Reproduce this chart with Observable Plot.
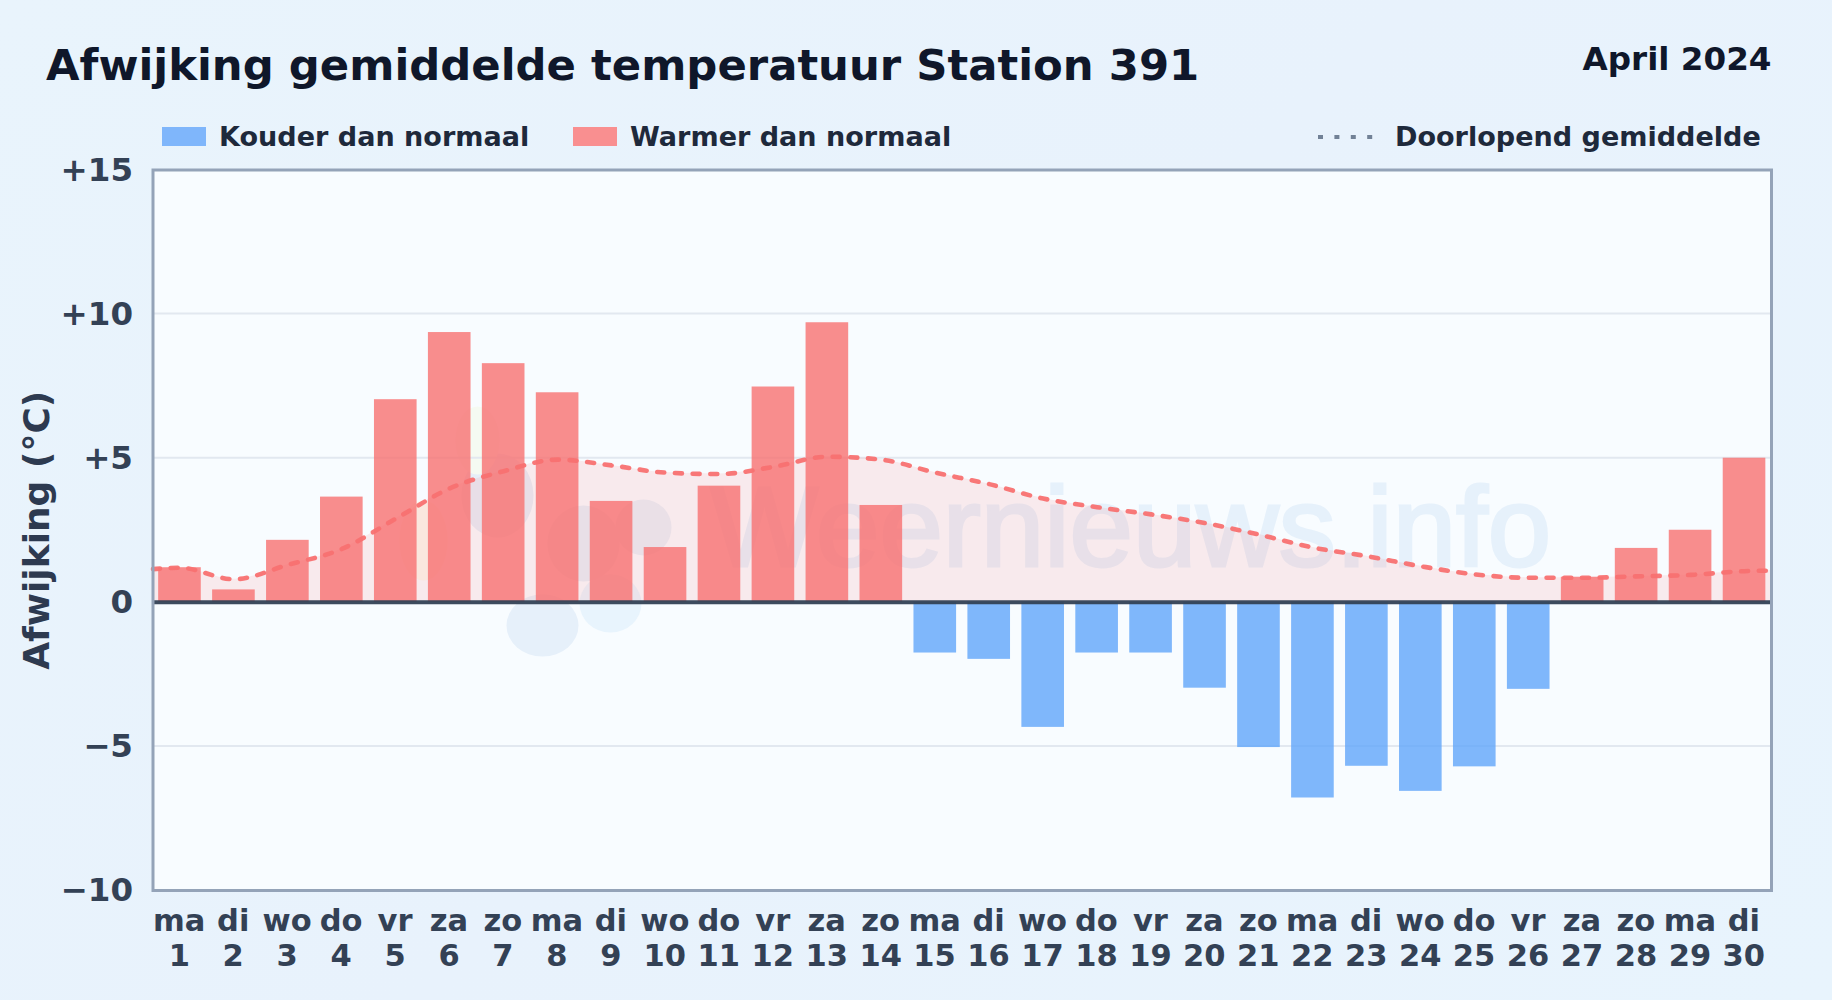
<!DOCTYPE html>
<html><head><meta charset="utf-8">
<script src="https://cdn.jsdelivr.net/npm/d3@7"></script>
<script src="https://cdn.jsdelivr.net/npm/@observablehq/plot@0.6"></script>
<style>
html,body{margin:0;padding:0;width:1832px;height:1000px;overflow:hidden;background:#e8f3fc;font-family:"DejaVu Sans",sans-serif;font-weight:700}
#page{position:relative;width:1832px;height:1000px;background:linear-gradient(135deg,#e9f4fc 0%,#e8f2fc 50%,#e8f4fd 100%)}
.t{position:absolute;white-space:nowrap;line-height:1}
.sw{position:absolute;width:44px;height:19px;top:127px}
#panel{position:absolute;left:152.5px;top:169.5px;width:1618.5px;height:720.5px;background:#f8fcff;overflow:hidden}
#wm{position:absolute;left:0;top:0}
#chart{position:absolute;left:0;top:150px}
#chart svg{display:block;background:transparent;max-width:none}
</style></head><body>
<div id="page">
  <div id="panel"></div>
  <div class="t" id="title" style="left:46px;top:43.5px;font-size:43.35px;color:#0f172a">Afwijking gemiddelde temperatuur Station 391</div>
  <div class="t" id="period" style="right:60.5px;top:43px;font-size:32.6px;color:#0f172a">April 2024</div>
  <div class="sw" style="left:162px;background:#7fb6fb"></div>
  <div class="t" style="left:219px;top:123px;font-size:27.05px;color:#1e293b">Kouder dan normaal</div>
  <div class="sw" style="left:573px;background:#f98f90"></div>
  <div class="t" style="left:630px;top:123px;font-size:27.05px;color:#1e293b">Warmer dan normaal</div>
  <svg style="position:absolute;left:1316px;top:130px" width="64" height="14"><line x1="2" x2="62" y1="7" y2="7" stroke="#64748b" stroke-opacity=".9" stroke-width="4" stroke-dasharray="5 11.4"/></svg>
  <div class="t" style="left:1395px;top:123px;font-size:27.05px;color:#1e293b">Doorlopend gemiddelde</div>
  <div id="chart"></div>
</div>
<script>
const days = d3.range(1, 31);
const weekdays = ["ma","di","wo","do","vr","za","zo","ma","di","wo","do","vr","za","zo","ma","di","wo","do","vr","za","zo","ma","di","wo","do","vr","za","zo","ma","di"];
const values = [1.2,0.43,2.15,3.65,7.03,9.36,8.28,7.27,3.5,1.9,4.03,7.47,9.7,3.36,-1.76,-1.98,-4.34,-1.76,-1.76,-2.98,-5.04,-6.79,-5.69,-6.56,-5.71,-3.02,0.87,1.87,2.5,5.0];
const avgX = [0.5,1,2,3,4,5,6,7,8,9,10,11,12,13,14,15,16,17,18,19,20,21,22,23,24,25,26,27,28,29,30,30.5];
const avgY = [1.15,1.2,0.8,1.3,1.85,2.9,3.95,4.55,4.95,4.75,4.5,4.45,4.7,5.05,4.95,4.5,4.1,3.6,3.3,3.05,2.75,2.35,1.9,1.6,1.25,0.97,0.85,0.85,0.9,0.95,1.08,1.1];
const yTicks = [-10,-5,0,5,10,15];
const gridTicks = [-5,5,10];
const yLabel = v => v > 0 ? "+" + v : v < 0 ? "\u2212" + Math.abs(v) : "0";
const avgRows = avgX.map((x, i) => ({x, y: avgY[i]}));
const red = "#f87171", blue = "#60a5fa";

// watermark sits in the panel, underneath the translucent marks
const wm = d3.select("#panel").append("svg").attr("id","wm").attr("width",1618.5).attr("height",720.5);
const ox = -152.5, oy = -169.5;
const logo = [[542,625,36,31,"#e6f0fa"],[610,603,31,29,"#e8f4fd"],[497,495,36,42,"#e6eef8"],[643,527,28,28,"#e8f0f9"],[583,543,36,38,"#e6eff8"],[423,540,24,40,"#fbf8ee"],[477,440,22,34,"#f5faf2"]];
wm.selectAll("ellipse").data(logo).join("ellipse")
  .attr("cx",d=>d[0]+ox).attr("cy",d=>d[1]+oy).attr("rx",d=>d[2]).attr("ry",d=>d[3]).attr("fill",d=>d[4]);
wm.append("text").attr("x",710+ox).attr("y",565+oy).attr("font-family","Liberation Sans").attr("font-weight",400)
  .attr("font-size",114).attr("fill","#e6f1fb").attr("stroke","#e6f1fb").attr("stroke-width",3).text("Weernieuws.info");

const chart = Plot.plot({
  width: 1832, height: 850,
  marginLeft: 152.5, marginRight: 61, marginTop: 19.5, marginBottom: 110,
  style: {background:"transparent", fontFamily:"DejaVu Sans, sans-serif"},
  x: {type:"linear", domain:[0.5,30.5], axis:null},
  y: {domain:[-10,15], axis:null},
  marks: [
    Plot.ruleY(gridTicks, {stroke:"#e2e8f0", strokeWidth:2, dy:-0.5}),
    Plot.areaY(avgRows, {x:"x", y1:()=>0, y2:"y", curve:"monotone-x", fill:red, fillOpacity:0.13}),
    Plot.rect(days, {x1:d=>d-0.395, x2:d=>d+0.395, y1:()=>0, y2:d=>values[d-1], fill:d=>values[d-1]>=0?red:blue, fillOpacity:0.8}),
    Plot.ruleY([0], {stroke:"#334155", strokeWidth:4, strokeOpacity:.95}),
    Plot.line(avgRows, {x:"x", y:"y", curve:"monotone-x", stroke:red, strokeWidth:4.6, strokeDasharray:"7 10.7", strokeLinecap:"round", strokeOpacity:.95}),
    Plot.frame({stroke:"#94a3b8", strokeWidth:3}),
    Plot.axisY({ticks:yTicks, tickFormat:yLabel, tickSize:0, tickPadding:20, dy:0.5, fontSize:32.5, fontWeight:700, fill:"#334155", label:null}),
    Plot.axisX({ticks:days, tickFormat:d=>weekdays[d-1]+"\n"+d, tickSize:0, tickPadding:16, dx:-0.7, fontSize:30.5, fontWeight:700, fill:"#334155", lineHeight:1.15, label:null}),
    Plot.text(["Afwijking (\u00b0C)"], {text:d=>d, frameAnchor:"left", textAnchor:"middle", dx:-115.5, rotate:-90, fontSize:36, fontWeight:700, fill:"#2d3a50"})
  ]
});
document.getElementById("chart").append(chart);
</script>
</body></html>
